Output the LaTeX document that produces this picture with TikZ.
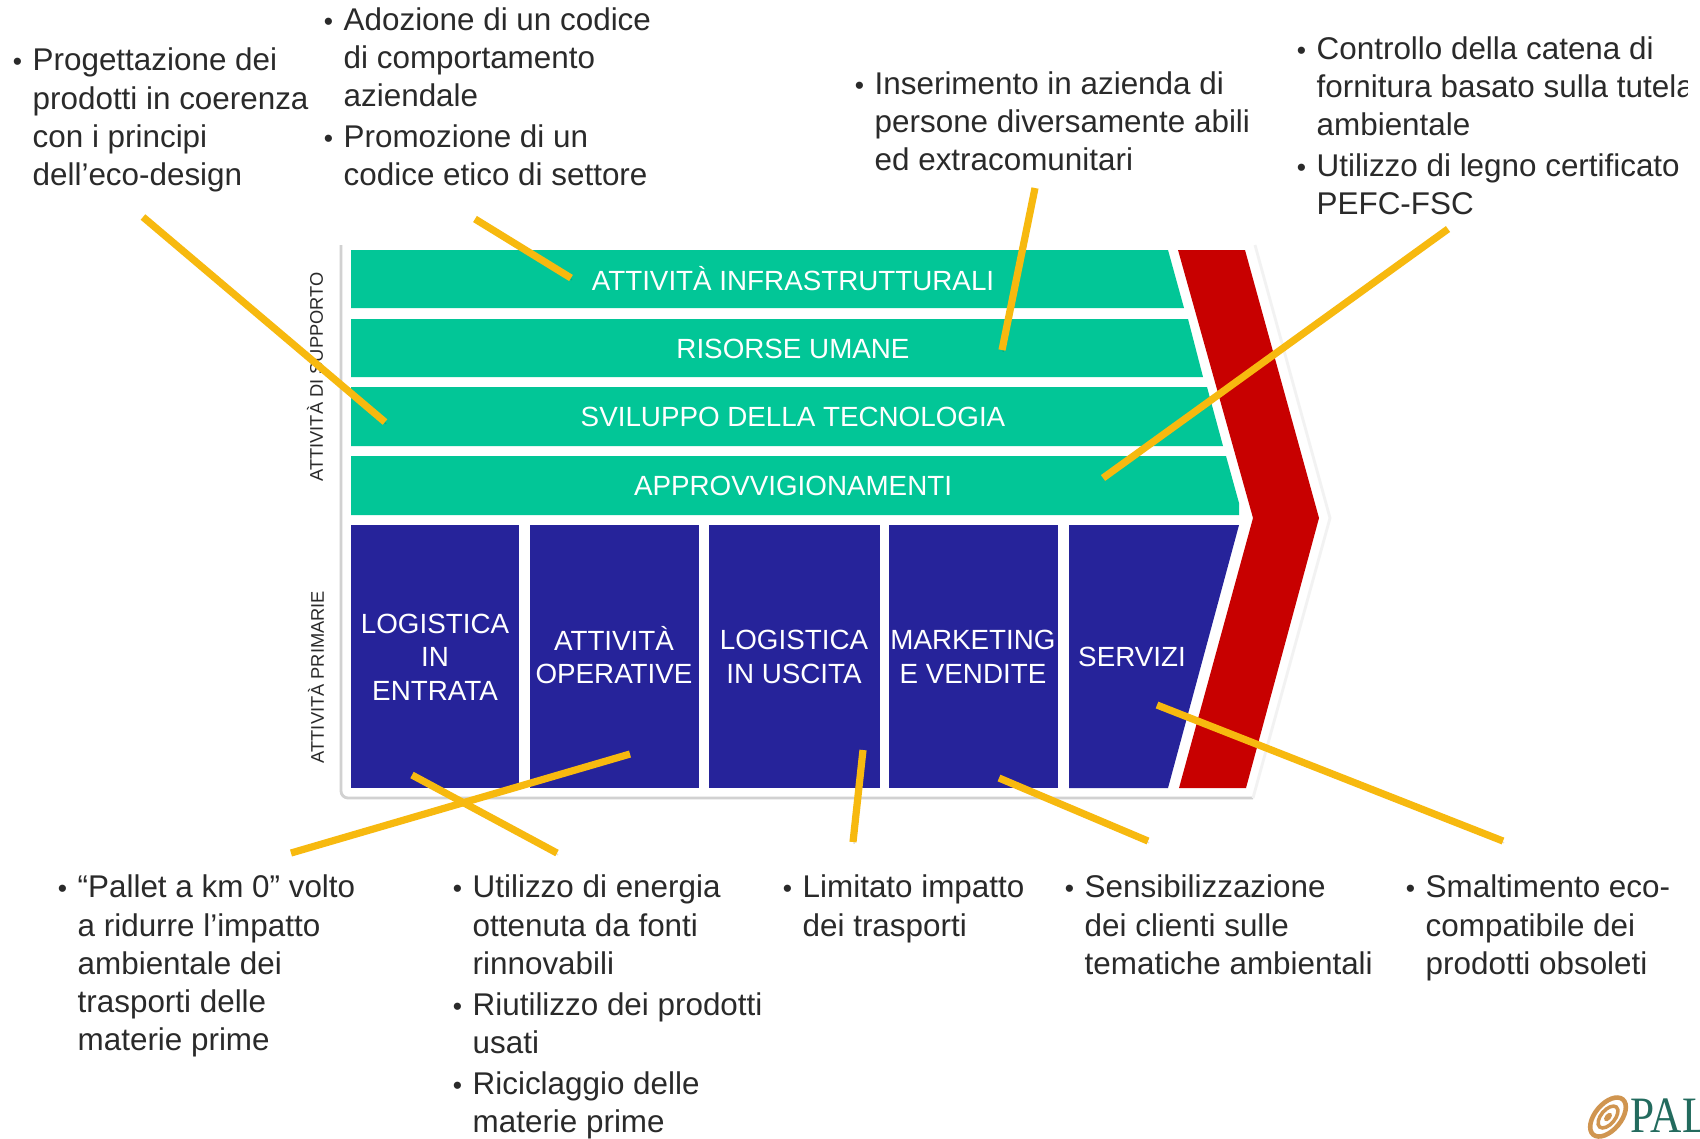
\documentclass[tikz,border=0pt]{standalone}
\usepackage{fontspec}
\setmainfont{Liberation Sans}
\newfontfamily\logofont{Liberation Serif}
\usepackage{tikz}
\definecolor{barGreen}{HTML}{02C697}
\definecolor{boxBlue}{HTML}{26239A}
\definecolor{arrowRed}{HTML}{C80000}
\definecolor{leaderYellow}{HTML}{F7B90F}
\definecolor{noteGrey}{HTML}{2A2A2A}
\definecolor{logoTeal}{HTML}{236B5E}
\definecolor{logoOrange}{HTML}{D09550}
\newcommand{\bul}{\leavevmode\llap{{\fontsize{7.5}{7.5}\selectfont\textbullet}\hspace{3pt}}}
\newcommand{\gapline}{\\[0.3mm]}

\begin{document}
\begin{tikzpicture}[x=0.01cm,y=0.01cm]
\tikzstyle{every node}+=[inner sep=0pt]
\tikzstyle{textnote}=[anchor=north west,align=left,text=noteGrey,font=\fontsize{8.93}{10.83}\selectfont]
\tikzstyle{barlabel}=[align=center,text=white,font=\fontsize{7.9}{9.55}\selectfont]
\tikzstyle{sidelabel}=[rotate=90,text=noteGrey,font=\fontsize{5.2}{6}\selectfont]
\tikzstyle{leader}=[draw=leaderYellow,line width=2.05pt,preaction={draw=black,opacity=0.12,transform canvas={xshift=0.3pt,yshift=-0.5pt}}]
\clip (0,0) rectangle (1700,-1138);
\fill [white] (0,0) rectangle (1700,-1138);
\draw [black!18,line width=0.8pt,rounded corners=2pt] (341,-245) -- (341,-798) -- (1253,-798);
\draw [black!5,line width=0.8pt] (1253,-798) -- (1330,-518) -- (1255,-245);
\fill [barGreen] (351,-250) -- (1168,-250) -- (1184,-308) -- (351,-308) -- cycle;
\fill [barGreen] (351,-319) -- (1188,-319) -- (1203,-377) -- (351,-377) -- cycle;
\fill [barGreen] (351,-387) -- (1207,-387) -- (1223,-446) -- (351,-446) -- cycle;
\fill [barGreen] (351,-456) -- (1226,-456) -- (1239,-503) -- (1239,-515) -- (351,-515) -- cycle;
\fill [boxBlue] (351,-525) rectangle (519,-788);
\fill [boxBlue] (530,-525) rectangle (699,-788);
\fill [boxBlue] (709,-525) rectangle (880,-788);
\fill [boxBlue] (889,-525) rectangle (1058,-788);
\fill [boxBlue] (1069,-525) -- (1239,-525) -- (1168,-788) -- (1069,-788) -- cycle;
\fill [arrowRed] (1178,-250) -- (1245,-250) -- (1319,-518) -- (1246,-788) -- (1179,-788) -- (1253,-518) -- cycle;
\node [barlabel] (infra) at (793,-279) {ATTIVITÀ INFRASTRUTTURALI};
\node [barlabel] (risorse) at (793,-349) {RISORSE UMANE};
\node [barlabel] (sviluppo) at (793,-417) {SVILUPPO DELLA TECNOLOGIA};
\node [barlabel] (approv) at (793,-486) {APPROVVIGIONAMENTI};
\node [barlabel] (entrata) at (435,-657) {LOGISTICA\\IN\\ENTRATA};
\node [barlabel] (operative) at (614,-655) {ATTIVITÀ\\OPERATIVE};
\node [barlabel] (uscita) at (794,-657) {LOGISTICA\\IN USCITA};
\node [barlabel] (marketing) at (973,-657) {MARKETING\\E VENDITE};
\node [barlabel] (servizi) at (1132,-657) {SERVIZI};
\node [sidelabel] (supporto) at (315,-377) {ATTIVITÀ DI SUPPORTO};
\node [sidelabel] (primarie) at (316,-677) {ATTIVITÀ PRIMARIE};
\node [textnote] (noteDesign) at (32,-47.5) {\bul Progettazione dei\\prodotti in coerenza\\con i principi\\dell’eco-design};
\node [textnote] (noteCodice) at (343,-7) {\bul Adozione di un codice\\di comportamento\\aziendale\gapline\bul Promozione di un\\codice etico di settore};
\node [textnote] (notePersone) at (874,-71) {\bul Inserimento in azienda di\\persone diversamente abili\\ed extracomunitari};
\node [textnote] (noteFornitura) at (1316,-36) {\bul Controllo della catena di\\fornitura basato sulla tutela\\ambientale\gapline\bul Utilizzo di legno certificato\\PEFC-FSC};
\node [textnote] (notePallet) at (77,-874.5) {\bul “Pallet a km 0” volto\\a ridurre l’impatto\\ambientale dei\\trasporti delle\\materie prime};
\node [textnote] (noteEnergia) at (472,-874.5) {\bul Utilizzo di energia\\ottenuta da fonti\\rinnovabili\gapline\bul Riutilizzo dei prodotti\\usati\gapline\bul Riciclaggio delle\\materie prime};
\node [textnote] (noteTrasporti) at (802,-874.5) {\bul Limitato impatto\\dei trasporti};
\node [textnote] (noteClienti) at (1084,-874.5) {\bul Sensibilizzazione\\dei clienti sulle\\tematiche ambientali};
\node [textnote] (noteObsoleti) at (1425,-874.5) {\bul Smaltimento eco-\\compatibile dei\\prodotti obsoleti};
\fill [white] (1688,0) rectangle (1700,-240);
\coordinate (designA) at (143,-217);
\coordinate (designB) at (385,-422);
\coordinate (codiceA) at (475,-219);
\coordinate (codiceB) at (571,-278);
\coordinate (personeA) at (1035,-188);
\coordinate (personeB) at (1002,-350);
\coordinate (fornituraA) at (1448,-229);
\coordinate (fornituraB) at (1103,-478);
\coordinate (palletA) at (291,-853);
\coordinate (palletB) at (630,-754);
\coordinate (energiaA) at (412,-775);
\coordinate (energiaB) at (557,-853);
\coordinate (trasportiA) at (863,-750);
\coordinate (trasportiB) at (853,-842);
\coordinate (clientiA) at (999,-778);
\coordinate (clientiB) at (1148,-841);
\coordinate (obsoletiA) at (1157,-705);
\coordinate (obsoletiB) at (1503,-841);
\draw [leader] (designA) -- (designB);
\draw [leader] (codiceA) -- (codiceB);
\draw [leader] (personeA) -- (personeB);
\draw [leader] (fornituraA) -- (fornituraB);
\draw [leader] (palletA) -- (palletB);
\draw [leader] (energiaA) -- (energiaB);
\draw [leader] (trasportiA) -- (trasportiB);
\draw [leader] (clientiA) -- (clientiB);
\draw [leader] (obsoletiA) -- (obsoletiB);
\draw [logoOrange,line width=1.3pt,shift={(1608,-1117)},rotate=50] (0,0) ellipse (23 and 13);
\draw [logoOrange,line width=1pt,shift={(1608,-1117)},rotate=50] (0,0) ellipse (13 and 7);
\fill [logoOrange,shift={(1608,-1117)},rotate=50] (0,0) ellipse (5 and 3);
\node [anchor=base west,text=logoTeal,xscale=0.85,font=\logofont\fontsize{14.5}{14.5}\selectfont] (logoPal) at (1630,-1132) {PAL};
\end{tikzpicture}
\end{document}
